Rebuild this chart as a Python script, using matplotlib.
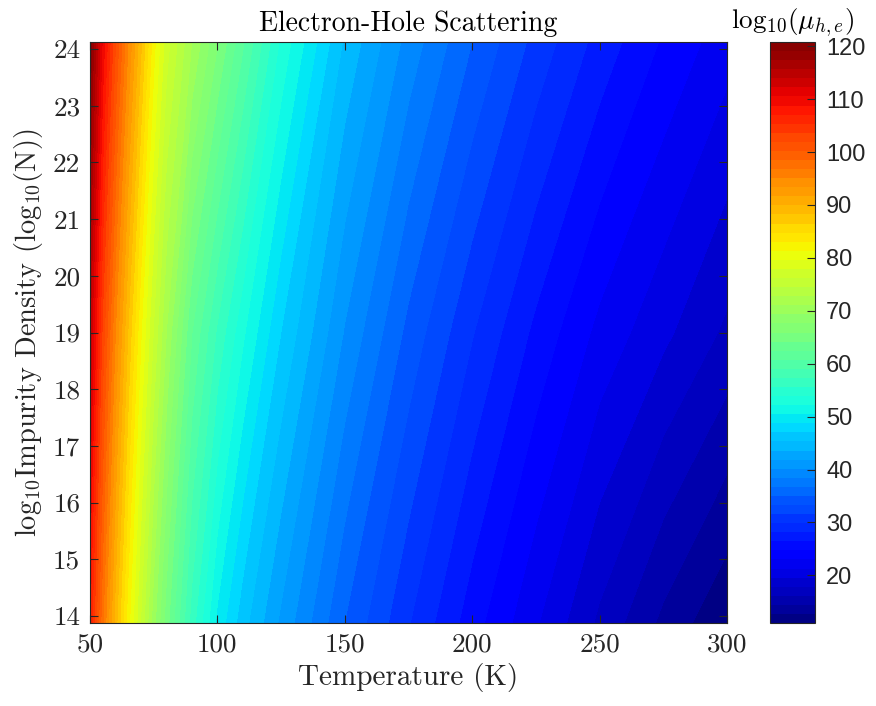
#!/usr/bin/env python
"""
Electron-hole scattering mobility map over temperature and impurity density,
drawn in the style of a MATLAB pcolor/contourf figure.
"""
import numpy as np
import matplotlib.pyplot as plt
from matplotlib.colors import Normalize

# Temperature samples (K) along the x axis
TEMPERATURE = [50, 55, 60, 65, 70, 75, 80, 90, 100, 110, 125,
               150, 175, 200, 225, 250, 275, 300]
# log10 impurity density rows (bottom edge, middle, top edge)
LOG_DENSITY = [13.875, 19.0, 24.125]

# Values for each row
MOBILITY_LOW_N = [107.0, 97.0, 89.0, 82.0, 76.0, 70.0, 65.0, 56.5, 50.0,
                  46.0, 41.5, 35.0, 30.0, 25.5, 21.5, 17.5, 14.0, 11.2]
MOBILITY_MID_N = [114.0, 103.0, 95.0, 88.0, 81.5, 76.0, 71.0, 62.5, 57.0,
                  52.5, 47.0, 40.0, 34.5, 30.0, 26.0, 22.5, 20.0, 17.5]
MOBILITY_HIGH_N = [120.5, 110.0, 102.0, 95.0, 88.5, 82.0, 77.0, 71.0, 66.0,
                   61.0, 53.5, 45.0, 39.5, 35.0, 31.0, 27.5, 24.5, 22.0]

COLOR_LIMITS = (11.0, 120.8)
X_TICKS = [50, 100, 150, 200, 250, 300]
Y_TICKS = list(range(14, 25))
CBAR_TICKS = list(range(20, 130, 10))

FIG_W, FIG_H = 876, 706
DPI = 100
AXIS_GRAY = '#262626'


def px_box(left: float, top: float, right: float, bottom: float) -> list:
    """
    Converts a pixel box (origin top-left) into a figure-fraction rect.
    """
    return [left / FIG_W, 1 - bottom / FIG_H,
            (right - left) / FIG_W, (bottom - top) / FIG_H]


def style_box(ax) -> None:
    """
    MATLAB-like box: gray spines, inward ticks on all four sides.
    """
    for spine in ax.spines.values():
        spine.set_color(AXIS_GRAY)
        spine.set_linewidth(0.8)
    ax.tick_params(direction='in', length=6, width=0.8, color=AXIS_GRAY,
                   top=True, right=True, pad=7)


def draw_map() -> None:
    """
    Draws the filled map with a 64-step jet colour scale plus its colorbar.
    """
    plt.rcParams['mathtext.fontset'] = 'cm'

    fig = plt.figure(figsize=(FIG_W / DPI, FIG_H / DPI), dpi=DPI)
    ax = fig.add_axes(px_box(90, 42, 727, 623))
    cax = fig.add_axes(px_box(770, 42, 815, 623))

    mobility = np.array([MOBILITY_LOW_N, MOBILITY_MID_N, MOBILITY_HIGH_N])
    levels = np.linspace(COLOR_LIMITS[0], COLOR_LIMITS[1], 65)
    norm = Normalize(*COLOR_LIMITS)
    filled = ax.contourf(TEMPERATURE, LOG_DENSITY, mobility, levels=levels,
                         cmap='jet', norm=norm)

    ax.set_xlim(50, 300)
    ax.set_ylim(LOG_DENSITY[0], LOG_DENSITY[-1])
    style_box(ax)

    serif = dict(fontfamily='cmr10', fontsize=19.5, color=AXIS_GRAY)
    ax.set_xticks(X_TICKS, labels=[str(t) for t in X_TICKS], **serif)
    ax.set_yticks(Y_TICKS, labels=[str(t) for t in Y_TICKS], **serif)

    ax.set_xlabel('Temperature (K)', fontfamily='cmr10', fontsize=21,
                  color=AXIS_GRAY, labelpad=5)
    ax.set_ylabel(r'log$_{10}$Impurity Density (log$_{10}$(N))',
                  fontfamily='cmr10', fontsize=20.5, color=AXIS_GRAY,
                  labelpad=6)
    ax.set_title('Electron-Hole Scattering', fontfamily='cmr10',
                 fontsize=20, color='black', pad=8)

    cbar = fig.colorbar(filled, cax=cax)
    cbar.outline.set_edgecolor(AXIS_GRAY)
    cbar.outline.set_linewidth(0.8)
    cax.tick_params(direction='in', length=6, width=0.8, color=AXIS_GRAY,
                    pad=8)
    cax.set_yticks(CBAR_TICKS, labels=[str(t) for t in CBAR_TICKS],
                   fontfamily='Liberation Sans', fontsize=17,
                   color=AXIS_GRAY)
    cax.set_ylim(*COLOR_LIMITS)
    cax.set_title(r'$\mathrm{log}_{10}(\mu_{h,e})$', fontsize=19.5,
                  color='black', pad=10)

    fig.savefig('out.png', dpi=DPI)


if __name__ == "__main__":
    draw_map()
